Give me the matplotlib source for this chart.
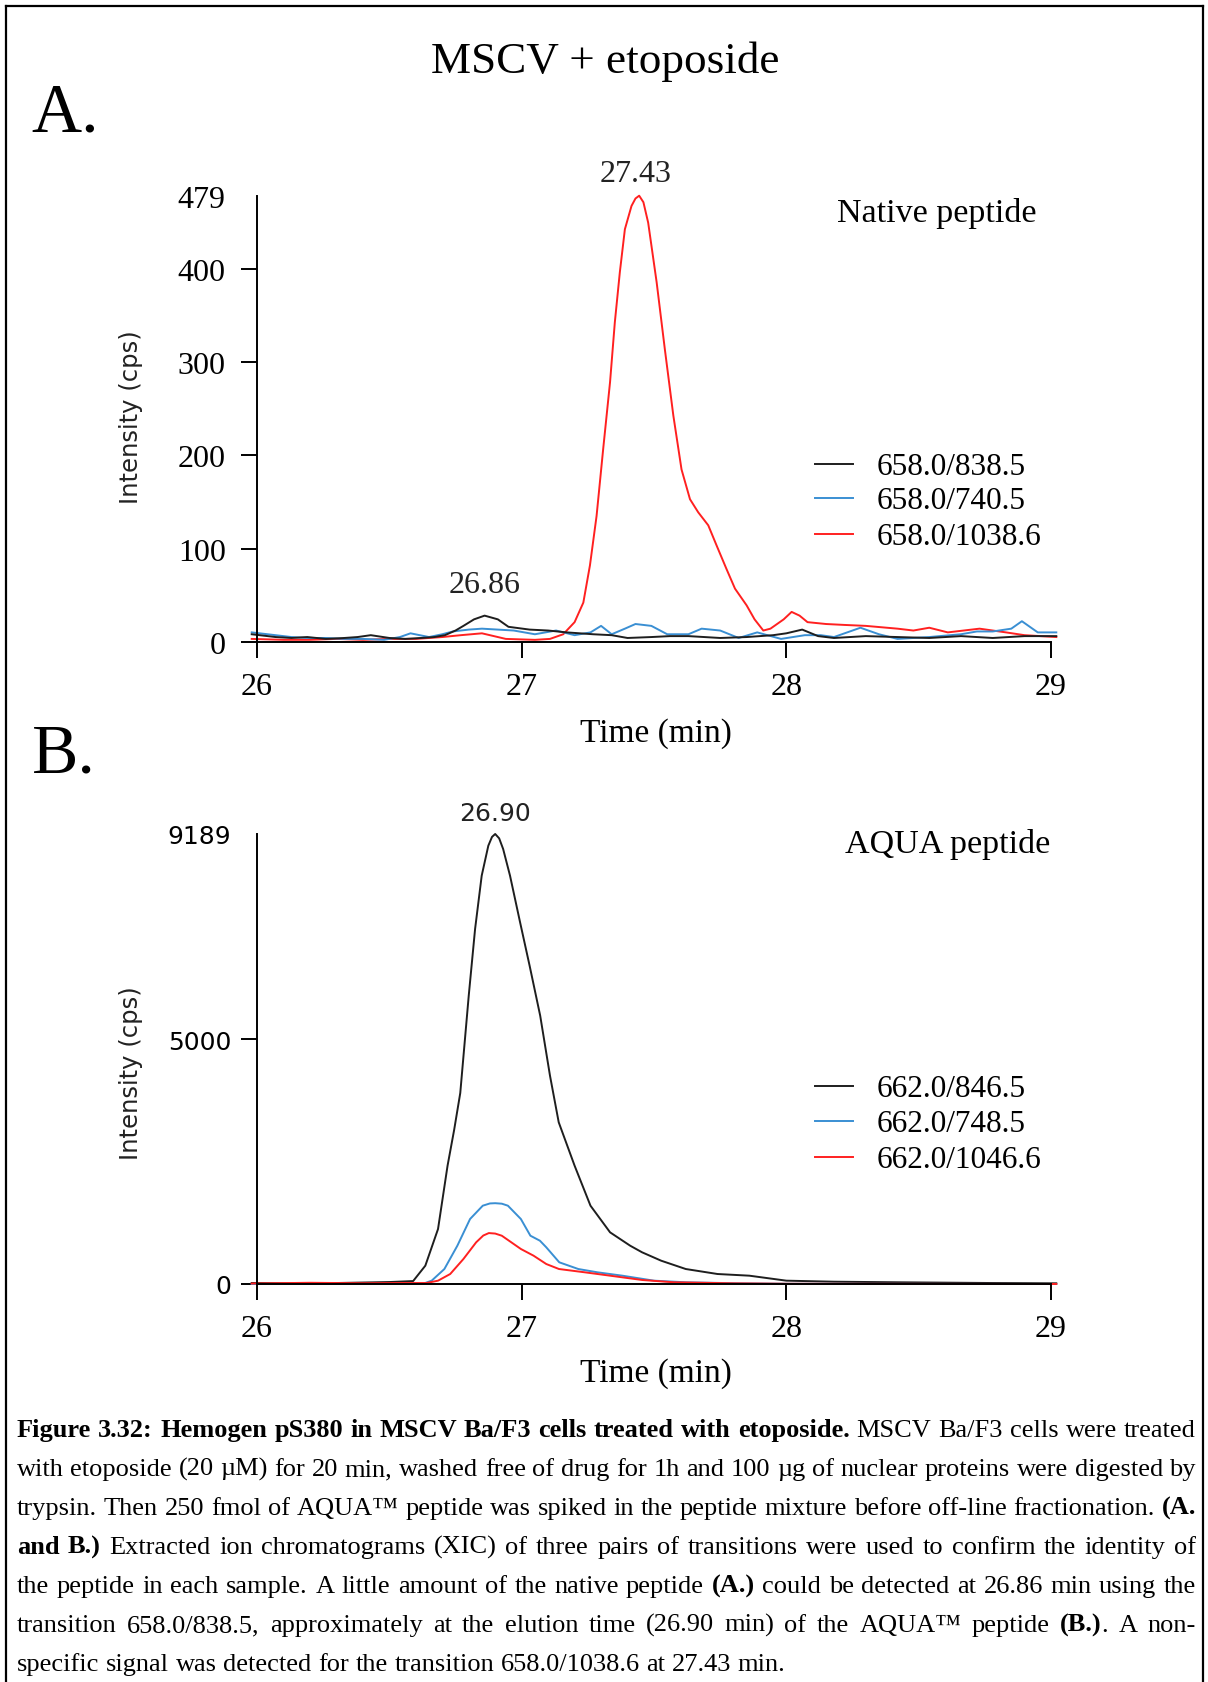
import matplotlib
matplotlib.use("Agg")
import matplotlib.pyplot as plt
from matplotlib.lines import Line2D

# ---------------------------------------------------------------- data
# Panel A: native peptide transitions (time in min, intensity in cps)
a_black_t = [25.98, 26.07, 26.13, 26.19, 26.26, 26.33, 26.38, 26.43, 26.50, 26.56,
             26.62, 26.67, 26.71, 26.75, 26.78, 26.82, 26.86, 26.91, 26.95, 27.03,
             27.10, 27.17, 27.27, 27.34, 27.40, 27.49, 27.56, 27.63, 27.69, 27.75,
             27.85, 27.95, 28.00, 28.06, 28.12, 28.18, 28.30, 28.42, 28.54, 28.66,
             28.78, 28.90, 29.02]
a_black_v = [8, 5, 4, 5, 3, 4, 5, 7, 4, 3,
             4, 5, 7, 12, 17, 24, 28, 24, 16, 13,
             12, 10, 8, 7, 4, 5, 6, 6, 5, 4,
             5, 7, 9, 13, 6, 4, 6, 5, 4, 6,
             4, 6, 6]

a_blue_t = [25.98, 26.07, 26.13, 26.19, 26.26, 26.33, 26.40, 26.48, 26.54, 26.58,
            26.65, 26.70, 26.74, 26.80, 26.85, 26.91, 26.97, 27.05, 27.13, 27.20,
            27.26, 27.30, 27.34, 27.39, 27.43, 27.49, 27.55, 27.63, 27.68, 27.75,
            27.82, 27.89, 27.98, 28.07, 28.13, 28.18, 28.23, 28.28, 28.35, 28.42,
            28.54, 28.66, 28.72, 28.78, 28.85, 28.89, 28.95, 29.02]
a_blue_v = [10, 7, 5, 4, 4, 3, 3, 2, 5, 9,
            5, 8, 11, 13, 14, 13, 12, 8, 12, 7,
            10, 17, 8, 14, 19, 17, 8, 8, 14, 12,
            4, 10, 3, 7, 7, 5, 10, 15, 8, 3,
            5, 8, 11, 11, 14, 22, 10, 10]

a_red_t = [25.98, 26.10, 26.20, 26.30, 26.40, 26.50, 26.60, 26.70, 26.77, 26.85,
           26.94, 27.05, 27.107, 27.157, 27.20, 27.233, 27.258, 27.283, 27.308, 27.334,
           27.352, 27.371, 27.39, 27.415, 27.43, 27.444, 27.46, 27.478, 27.51, 27.541,
           27.573, 27.604, 27.636, 27.667, 27.705, 27.737, 27.774, 27.806, 27.85, 27.88,
           27.913, 27.94, 27.99, 28.02, 28.05, 28.08, 28.15, 28.22, 28.30, 28.42,
           28.48, 28.54, 28.61, 28.67, 28.73, 28.83, 28.90, 29.02]
a_red_v = [3, 2, 2, 3, 2, 3, 3, 5, 7, 9,
           3, 2, 3, 8, 21, 42, 82, 135, 207, 279,
           343, 397, 443, 468, 476, 479, 472, 450, 386, 314,
           243, 185, 153, 139, 125, 103, 78, 57, 39, 24,
           12, 14, 24, 32, 28, 21, 19, 18, 17, 14,
           12, 15, 10, 12, 14, 10, 7, 5]

# Panel B: AQUA peptide transitions
b_black_t = [25.98, 26.20, 26.40, 26.50, 26.59, 26.636, 26.684, 26.72, 26.745, 26.768,
             26.80, 26.824, 26.849, 26.874, 26.888, 26.90, 26.915, 26.93, 26.956, 26.994,
             27.03, 27.07, 27.107, 27.14, 27.20, 27.26, 27.334, 27.41, 27.455, 27.527,
             27.62, 27.74, 27.86, 28.00, 28.18, 28.42, 28.78, 29.02]
b_black_v = [20, 10, 30, 40, 60, 374, 1123, 2416, 3150, 3900,
             5887, 7249, 8338, 8950, 9130, 9189, 9100, 8883, 8338, 7386,
             6500, 5479, 4254, 3302, 2416, 1599, 1055, 782, 647, 476,
             306, 204, 170, 68, 47, 35, 20, 14]

b_blue_t = [25.98, 26.30, 26.60, 26.63, 26.66, 26.708, 26.757, 26.805, 26.853, 26.88,
            26.90, 26.925, 26.948, 26.997, 27.033, 27.069, 27.093, 27.142, 27.214, 27.286,
            27.38, 27.50, 27.62, 27.82, 28.00, 28.50, 29.02]
b_blue_v = [0, 0, 5, 10, 68, 306, 782, 1327, 1599, 1645,
            1650, 1640, 1599, 1327, 986, 884, 749, 443, 306, 239,
            170, 68, 35, 14, 5, 3, 0]

b_red_t = [25.98, 26.20, 26.40, 26.55, 26.64, 26.684, 26.73, 26.78, 26.828, 26.855,
           26.876, 26.90, 26.925, 26.997, 27.045, 27.093, 27.141, 27.238, 27.334, 27.455,
           27.575, 27.80, 28.00, 28.50, 29.02]
b_red_v = [10, 25, 15, 20, 20, 68, 204, 511, 851, 990,
           1040, 1030, 986, 715, 578, 408, 306, 239, 170, 82,
           35, 14, 5, 3, 0]

a_labels = ["658.0/838.5", "658.0/740.5", "658.0/1038.6"]
b_labels = ["662.0/846.5", "662.0/748.5", "662.0/1046.6"]
x_ticks = [26, 27, 28, 29]
a_yticks = [0, 100, 200, 300, 400, 479]
b_yticks = [0, 5000, 9189]

caption_lines = [
    "**Figure 3.32: Hemogen pS380 in MSCV Ba/F3 cells treated with etoposide.** MSCV Ba/F3 cells were treated",
    "with etoposide (20 \u00b5M) for 20 min, washed free of drug for 1h and 100 \u00b5g of nuclear proteins were digested by",
    "trypsin. Then 250 fmol of AQUA\u2122 peptide was spiked in the peptide mixture before off-line fractionation. **(A.**",
    "**and B.)** Extracted ion chromatograms (XIC) of three pairs of transitions were used to confirm the identity of",
    "the peptide in each sample. A little amount of the native peptide **(A.)** could be detected at 26.86 min using the",
    "transition 658.0/838.5, approximately at the elution time (26.90 min) of the AQUA\u2122 peptide **(B.)**. A non-",
    "specific signal was detected for the transition 658.0/1038.6 at 27.43 min.",
]

# ---------------------------------------------------------------- style
SERIF = "Liberation Serif"
SANS = "DejaVu Sans"
C_BLACK = "#1e1e1e"
C_BLUE = "#3a8fd3"
C_RED = "#ff2020"
LW = 1.4

W, H = 1208, 1683
fig = plt.figure(figsize=(W / 100, H / 100), dpi=100)
fig.patch.set_facecolor("white")


def fx(px):
    return px / W


def fy(py):
    return 1 - py / H


def setup_axes(ax, ymax, yticks, tick_family, tick_size, ypad):
    ax.set_xlim(26, 29)
    ax.set_ylim(0, ymax)
    for s in ("top", "right"):
        ax.spines[s].set_visible(False)
    for s in ("left", "bottom"):
        ax.spines[s].set_linewidth(LW)
        ax.spines[s].set_color("black")
    ax.set_xticks(x_ticks)
    ax.set_xticklabels([str(t) for t in x_ticks], family=SERIF, size=23)
    ax.set_yticks(yticks)
    ax.set_yticklabels([str(t) for t in yticks], family=tick_family, size=tick_size)
    ax.tick_params(axis="both", direction="out", length=11.2, width=LW, color="black")
    ax.tick_params(axis="x", pad=10.5)
    ax.tick_params(axis="y", pad=ypad)
    # the top value is shown as a label only, without a tick mark
    ax.yaxis.get_major_ticks()[-1].tick1line.set_visible(False)
    ax.patch.set_alpha(0)


# ---------------------------------------------------------------- panel A
ax_a = fig.add_axes([fx(257), fy(642.7), 794 / W, 446 / H])
setup_axes(ax_a, 479, a_yticks, SERIF, 23, 11.3)
ax_a.plot(a_red_t, a_red_v, color=C_RED, lw=LW, clip_on=False)
ax_a.plot(a_blue_t, a_blue_v, color=C_BLUE, lw=LW, clip_on=False)
ax_a.plot(a_black_t, a_black_v, color=C_BLACK, lw=LW, clip_on=False)
ax_a.annotate("27.43", xy=(27.43, max(a_red_v)), xytext=(0, 10.4), textcoords="offset points",
              ha="center", va="baseline", family=SERIF, size=23, color="#222222")
ax_a.annotate("26.86", xy=(26.86, max(a_black_v)), xytext=(0, 16.8), textcoords="offset points",
              ha="center", va="baseline", family=SERIF, size=23, color="#222222")

# ---------------------------------------------------------------- panel B
ax_b = fig.add_axes([fx(257), fy(1285), 794 / W, 450 / H])
setup_axes(ax_b, 9189, b_yticks, SANS, 18, 7.4)
ax_b.plot(b_black_t, b_black_v, color=C_BLACK, lw=LW, clip_on=False)
ax_b.plot(b_blue_t, b_blue_v, color=C_BLUE, lw=LW, clip_on=False)
ax_b.plot(b_red_t, b_red_v, color=C_RED, lw=LW, clip_on=False)
ax_b.annotate("26.90", xy=(26.90, max(b_black_v)), xytext=(0, 10.3), textcoords="offset points",
              ha="center", va="baseline", family=SANS, size=18, color="#222222")

# ---------------------------------------------------------------- labels and keys
fig.text(fx(605), fy(73), "MSCV + etoposide", ha="center", va="baseline",
         family=SERIF, size=32.5)
fig.text(fx(31), fy(131.7), "A.", ha="left", va="baseline", family=SERIF, size=50)
fig.text(fx(32), fy(773), "B.", ha="left", va="baseline", family=SERIF, size=50)

for cy in (416.7, 1073):
    fig.text(fx(131), fy(cy), "Intensity (cps)", rotation=90, ha="center", va="center",
             family=SANS, size=17.5, color="#222222")
for by in (742, 1382):
    fig.text(fx(656), fy(by), "Time (min)", ha="center", va="baseline", family=SERIF, size=24)

fig.text(fx(937), fy(221.7), "Native peptide", ha="center", va="baseline", family=SERIF, size=24.5)
fig.text(fx(948), fy(853.3), "AQUA peptide", ha="center", va="baseline", family=SERIF, size=24.5)

key_colors = [C_BLACK, C_BLUE, C_RED]
for labels, rows in ((a_labels, (465, 499.3, 535)), (b_labels, (1086.7, 1121.7, 1158.3))):
    for lab, col, ry in zip(labels, key_colors, rows):
        fig.add_artist(Line2D([fx(815), fx(853)], [fy(ry), fy(ry)], color=col, lw=LW))
        fig.text(fx(877), fy(ry + 10), lab, ha="left", va="baseline", family=SERIF, size=22.5)

# outer frame
frame_kw = dict(color="black", lw=1.6)
fig.add_artist(Line2D([fx(6), fx(6)], [fy(6.7), fy(H + 20)], **frame_kw))
fig.add_artist(Line2D([fx(1203), fx(1203)], [fy(6.7), fy(H + 20)], **frame_kw))
fig.add_artist(Line2D([fx(6), fx(1203)], [fy(6.7), fy(6.7)], **frame_kw))

# ---------------------------------------------------------------- caption
CAP_SIZE = 19
renderer = fig.canvas.get_renderer()


def parse_words(line):
    words = [[]]
    for i, seg in enumerate(line.split("**")):
        bold = i % 2 == 1
        parts = seg.split(" ")
        for j, p in enumerate(parts):
            if j > 0:
                words.append([])
            if p:
                words[-1].append((p, bold))
    return [w for w in words if w]


def frag_width(text, bold):
    t = fig.text(0, 0, text, family=SERIF, size=CAP_SIZE,
                 weight="bold" if bold else "normal")
    w = t.get_window_extent(renderer).width
    t.remove()
    return w


cap_left, cap_right = 17, 1196
space_w = CAP_SIZE * 100 / 72 * 0.25
for i, line in enumerate(caption_lines):
    words = parse_words(line)
    widths = [sum(frag_width(f, b) for f, b in w) for w in words]
    if i < len(caption_lines) - 1:
        gap = (cap_right - cap_left - sum(widths)) / (len(words) - 1)
    else:
        gap = space_w
    baseline = 1437 + 39 * i
    x = cap_left
    for w, ww in zip(words, widths):
        xx = x
        for f, b in w:
            fig.text(fx(xx), fy(baseline), f, ha="left", va="baseline", family=SERIF,
                     size=CAP_SIZE, weight="bold" if b else "normal")
            xx += frag_width(f, b)
        x += ww + gap

fig.savefig("out.png", dpi=100)
